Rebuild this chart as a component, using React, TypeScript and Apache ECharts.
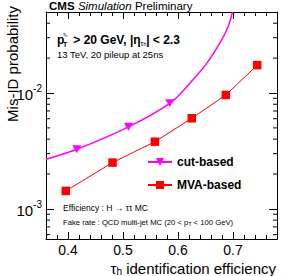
import React, { useEffect, useRef } from "react";
import * as echarts from "echarts";

const X_MIN = 0.36;
const X_MAX = 0.78;
const Y_MIN = 5.5e-4;
const Y_MAX = 0.05;

const seriesNames = ["cut-based", "MVA-based"];
const mvaX = [0.396, 0.481, 0.558, 0.625, 0.687, 0.744];
const mvaY = [1.43e-3, 2.51e-3, 3.8e-3, 6.05e-3, 9.62e-3, 1.74e-2];
const cutX = [0.36, 0.416, 0.51, 0.585, 0.622, 0.652, 0.676, 0.691, 0.699];
const cutY = [2.68e-3, 3.27e-3, 5.11e-3, 8.15e-3, 1.22e-2, 1.8e-2, 2.7e-2, 3.73e-2, 5.0e-2];
const cutMarker = [false, true, true, true, false, false, false, false, false];
const yMinorTicks = [6e-4, 7e-4, 8e-4, 9e-4, 2e-3, 3e-3, 4e-3, 5e-3, 6e-3, 7e-3, 8e-3, 9e-3, 2e-2, 3e-2, 4e-2];

const FONT = "'Liberation Sans', Arial, Helvetica, sans-serif";

export default function App() {
  const ref = useRef<HTMLDivElement>(null);
  useEffect(() => {
    if (!ref.current) return;
    const chart = echarts.init(ref.current, null, { renderer: "svg" });
    const axisLineStyle = { color: "#000", width: 1 };
    const xBase = {
      type: "value",
      min: X_MIN,
      max: X_MAX,
      axisLine: { show: true, onZero: false, lineStyle: axisLineStyle },
      axisTick: { show: true, inside: true, length: 7, lineStyle: { color: "#000" } },
      minorTick: { show: true, splitNumber: 5, length: 4, lineStyle: { color: "#000" } },
      splitLine: { show: false },
    };
    const yBase = {
      type: "log",
      logBase: 10,
      min: Y_MIN,
      max: Y_MAX,
      axisLine: { show: true, onZero: false, lineStyle: axisLineStyle },
      axisTick: { show: true, inside: true, length: 8, lineStyle: { color: "#000" } },
      splitLine: { show: false },
    };
    const option: any = {
      animation: false,
      textStyle: { fontFamily: FONT },
      grid: { left: 46, right: 11, top: 12, bottom: 37, containLabel: false },
      xAxis: [
        {
          ...xBase,
          position: "bottom",
          axisLabel: {
            show: true,
            showMinLabel: false,
            showMaxLabel: false,
            fontSize: 14,
            color: "#000",
            fontFamily: FONT,
            margin: 4,
            formatter: (v: number) => v.toFixed(1),
          },
        },
        { ...xBase, position: "top", axisLabel: { show: false } },
      ],
      yAxis: [
        {
          ...yBase,
          position: "left",
          axisLabel: {
            show: true,
            showMinLabel: false,
            showMaxLabel: false,
            color: "#000",
            fontFamily: FONT,
            margin: 4,
            formatter: (v: number) => {
              const e = Math.log10(v);
              const r = Math.round(e);
              if (Math.abs(e - r) > 1e-6) return "";
              return `{b|10}{s|${r}}`;
            },
            rich: {
              b: { fontSize: 15, color: "#000", fontFamily: FONT, padding: [3, 0, 0, 0] },
              s: { fontSize: 10, color: "#000", fontFamily: FONT, padding: [0, 0, 9, 0] },
            },
          },
        },
        { ...yBase, position: "right", axisLabel: { show: false } },
      ],
      legend: {
        data: seriesNames,
        orient: "vertical",
        left: 142,
        top: 151,
        itemWidth: 24,
        itemHeight: 10,
        itemGap: 11,
        textStyle: { fontWeight: "bold", fontSize: 12, color: "#000", fontFamily: FONT },
      },
      graphic: [
        {
          type: "text",
          x: 49,
          y: 6,
          style: {
            text: "{b|CMS} {i|Simulation} {n|Preliminary}",
            verticalAlign: "middle",
            rich: {
              b: { fontWeight: "bold", fontSize: 11.5, fontFamily: FONT, fill: "#000" },
              i: { fontStyle: "italic", fontSize: 11.5, fontFamily: FONT, fill: "#000" },
              n: { fontSize: 11.5, fontFamily: FONT, fill: "#000" },
            },
          },
        },
        {
          type: "text",
          x: 12,
          y: 6,
          rotation: Math.PI / 2,
          style: {
            text: "Mis-ID probability",
            align: "right",
            verticalAlign: "middle",
            fontSize: 15,
            fontFamily: FONT,
            fill: "#000",
          },
        },
        {
          type: "text",
          x: 276,
          y: 268,
          style: {
            text: "{t|τ}{s|h}{t| identification efficiency}",
            align: "right",
            verticalAlign: "middle",
            rich: {
              t: { fontSize: 15, fontFamily: FONT, fill: "#000" },
              s: { fontSize: 10, fontFamily: FONT, fill: "#000", padding: [7, 0, 0, 0] },
            },
          },
        },
        {
          type: "text",
          x: 57,
          y: 40,
          style: { text: "p", fontSize: 12, fontWeight: "bold", fontFamily: FONT, fill: "#000", verticalAlign: "middle" },
        },
        {
          type: "text",
          x: 63,
          y: 34,
          style: {
            text: "{a|τ}{b|h}",
            verticalAlign: "middle",
            rich: {
              a: { fontSize: 6, fontFamily: FONT, fill: "#000" },
              b: { fontSize: 4, fontFamily: FONT, fill: "#000", padding: [2, 0, 0, 0] },
            },
          },
        },
        {
          type: "text",
          x: 63,
          y: 44,
          style: { text: "T", fontSize: 7, fontWeight: "bold", fontFamily: FONT, fill: "#000", verticalAlign: "middle" },
        },
        {
          type: "text",
          x: 70,
          y: 40,
          style: {
            text: "{m| > 20 GeV, |η}{s|τ}{h|h}{m|| < 2.3}",
            verticalAlign: "middle",
            rich: {
              m: { fontSize: 12, fontWeight: "bold", fontFamily: FONT, fill: "#000" },
              s: { fontSize: 7, fontFamily: FONT, fill: "#000", padding: [6, 0, 0, 0] },
              h: { fontSize: 5, fontFamily: FONT, fill: "#000", padding: [8, 0, 0, 0] },
            },
          },
        },
        {
          type: "text",
          x: 57,
          y: 54,
          style: { text: "13 TeV, 20 pileup at 25ns", fontSize: 9.5, fontFamily: FONT, fill: "#000", verticalAlign: "middle" },
        },
        {
          type: "text",
          x: 63,
          y: 208,
          style: { text: "Efficiency : H → ττ MC", fontSize: 8.5, fontFamily: FONT, fill: "#000", verticalAlign: "middle" },
        },
        {
          type: "text",
          x: 63,
          y: 222,
          style: {
            text: "{n|Fake rate : QCD multi-jet MC (20 < p}{s|T}{n| < 100 GeV)}",
            verticalAlign: "middle",
            rich: {
              n: { fontSize: 7.7, fontFamily: FONT, fill: "#000" },
              s: { fontSize: 5, fontFamily: FONT, fill: "#000", padding: [4, 0, 0, 0] },
            },
          },
        },
      ],
      series: [
        {
          name: seriesNames[0],
          type: "line",
          xAxisIndex: 0,
          yAxisIndex: 0,
          smooth: 0.35,
          symbol: "triangle",
          symbolRotate: 180,
          symbolSize: [9, 8],
          lineStyle: { color: "#ff00ff", width: 1.5 },
          itemStyle: { color: "#ff00ff" },
          data: cutX.map((x, i) => ({ value: [x, cutY[i]], symbol: cutMarker[i] ? "triangle" : "none" })),
          clip: true,
          z: 3,
        },
        {
          name: seriesNames[1],
          type: "line",
          xAxisIndex: 0,
          yAxisIndex: 0,
          symbol: "rect",
          symbolSize: 8.5,
          lineStyle: { color: "#ff0000", width: 1 },
          itemStyle: { color: "#ff0000" },
          data: mvaX.map((x, i) => [x, mvaY[i]]),
          z: 3,
        },
        {
          name: "minor",
          type: "custom",
          xAxisIndex: 0,
          yAxisIndex: 0,
          silent: true,
          clip: false,
          encode: { x: 0, y: 1 },
          data: yMinorTicks.map((v) => [X_MIN, v]),
          renderItem: (params: any, api: any) => {
            const v = api.value(1);
            const l = api.coord([X_MIN, v]);
            const r = api.coord([X_MAX, v]);
            return {
              type: "group",
              children: [
                { type: "line", shape: { x1: l[0], y1: l[1], x2: l[0] + 4, y2: l[1] }, style: { stroke: "#000", lineWidth: 1 } },
                { type: "line", shape: { x1: r[0] - 4, y1: r[1], x2: r[0], y2: r[1] }, style: { stroke: "#000", lineWidth: 1 } },
              ],
            };
          },
        },
      ],
    };
    chart.setOption(option);
    return () => chart.dispose();
  }, []);
  return <div ref={ref} style={{ width: 288, height: 276, position: "absolute", left: 0, top: 0 }} />;
}
